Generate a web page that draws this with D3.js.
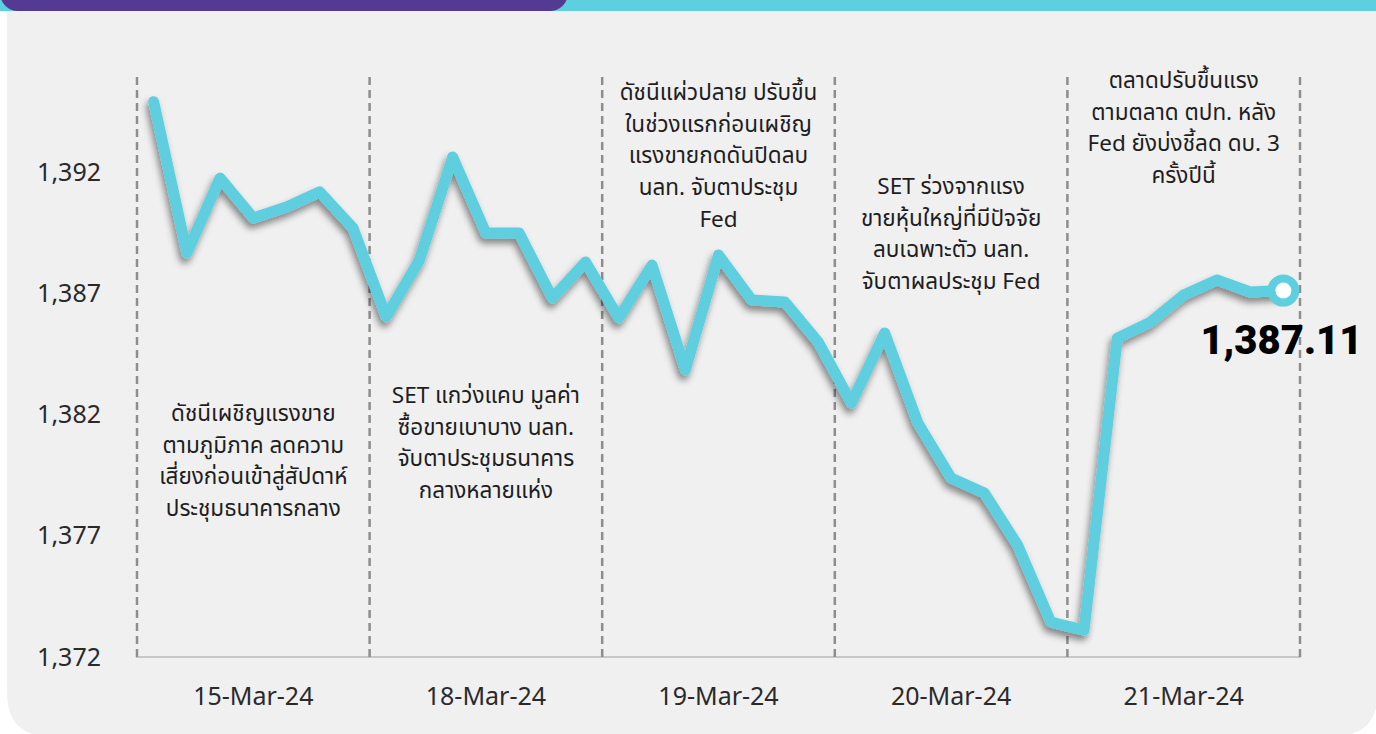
<!DOCTYPE html>
<html>
	<head>
		<title>SET Index 15-21 Mar 2024</title>
		<meta charset="utf-8">
		<meta name="viewport" content="width=device-width, initial-scale=1" />
	</head>
	<body>
		<svg id="chart" width="1376" height="734"></svg>
	</body>

	<script src="https://cdnjs.cloudflare.com/ajax/libs/d3/7.8.5/d3.min.js"></script>
	<script>
		// data
		const days = ["15-Mar-24", "18-Mar-24", "19-Mar-24", "20-Mar-24", "21-Mar-24"];
		const pointsPerDay = 7;
		const setIndex = [
			1394.90, 1388.66, 1391.75, 1390.10, 1390.56, 1391.18, 1389.69,
			1386.03, 1388.37, 1392.62, 1389.48, 1389.48, 1386.80, 1388.29,
			1385.98, 1388.16, 1383.84, 1388.58, 1386.72, 1386.64, 1384.99,
			1382.47, 1385.36, 1381.65, 1379.38, 1378.76, 1376.62, 1373.44,
			1373.11, 1385.15, 1385.81, 1386.93, 1387.55, 1387.05, 1387.11
		];
		const yTicks = [1372, 1377, 1382, 1387, 1392];
		const lastLabel = "1,387.11";
		const notes = [
			["ดัชนีเผชิญแรงขาย", "ตามภูมิภาค ลดความ", "เสี่ยงก่อนเข้าสู่สัปดาห์", "ประชุมธนาคารกลาง"],
			["SET แกว่งแคบ มูลค่า", "ซื้อขายเบาบาง นลท.", "จับตาประชุมธนาคาร", "กลางหลายแห่ง"],
			["ดัชนีแผ่วปลาย ปรับขึ้น", "ในช่วงแรกก่อนเผชิญ", "แรงขายกดดันปิดลบ", "นลท. จับตาประชุม", "Fed"],
			["SET ร่วงจากแรง", "ขายหุ้นใหญ่ที่มีปัจจัย", "ลบเฉพาะตัว นลท.", "จับตาผลประชุม Fed"],
			["ตลาดปรับขึ้นแรง", "ตามตลาด ตปท. หลัง", "Fed ยังบ่งชี้ลด ดบ. 3", "ครั้งปีนี้"]
		];

		// layout
		const W = 1376, H = 734;
		const plot = {left: 137, right: 1300, bottom: 657, top: 77};
		const noteTop = [413, 395, 92, 186, 80];
		const lineGap = 31.7;

		const svg = d3.select("#chart");
		const defs = svg.append("defs");

		const shadow = defs.append("filter")
			.attr("id", "shadow")
			.attr("x", "-10%").attr("y", "-10%")
			.attr("width", "120%").attr("height", "130%");
		shadow.append("feDropShadow")
			.attr("dx", -2).attr("dy", 5)
			.attr("stdDeviation", 3.5)
			.attr("flood-color", "#000")
			.attr("flood-opacity", 0.45);

		// background panel and header strips
		svg.append("rect").attr("width", W).attr("height", H).attr("fill", "#ffffff");
		svg.append("path")
			.attr("d", `M7,0 H${W + 2} V${H - 42} Q${W + 2},${H + 2} ${W - 42},${H + 2} H49 Q7,${H + 2} 7,${H - 42} Z`)
			.attr("fill", "#f0f0f0");
		svg.append("rect").attr("x", 0).attr("y", -20).attr("width", W).attr("height", 31).attr("fill", "#5ecfdf");
		svg.append("rect").attr("x", 0).attr("y", -30).attr("width", 568).attr("height", 41)
			.attr("rx", 18).attr("fill", "#553a94");

		// scales
		const xDay = d3.scaleBand().domain(days).range([plot.left, plot.right]).padding(0);
		const x = d3.scaleLinear()
			.domain([0, days.length * pointsPerDay])
			.range([plot.left, plot.right]);
		const y = d3.scaleLinear().domain([1372, 1392]).range([plot.bottom, 172]);

		// y axis labels
		const yAxis = svg.append("g")
			.attr("transform", "translate(101,0)")
			.call(d3.axisLeft(y).tickValues(yTicks).tickSize(0).tickPadding(0)
				.tickFormat(d3.format(",")));
		yAxis.select(".domain").remove();
		yAxis.selectAll("text")
			.attr("font-family", "'Noto Sans', sans-serif")
			.attr("font-size", 25)
			.attr("fill", "#2a2a2a");

		// x axis line and day labels
		const xAxis = svg.append("g")
			.attr("transform", `translate(0,${plot.bottom})`)
			.call(d3.axisBottom(xDay).tickSize(0).tickPadding(30));
		xAxis.select(".domain")
			.attr("stroke", "#c8c8c8")
			.attr("stroke-width", 2)
			.attr("d", `M${plot.left},-6 V0 H${plot.right} V-6`);
		xAxis.selectAll("text")
			.attr("font-family", "'Noto Sans', sans-serif")
			.attr("font-size", 25)
			.attr("fill", "#2a2a2a");

		// dashed dividers between days
		const bounds = days.map(d => xDay(d)).concat([plot.right]);
		svg.append("g").selectAll("line")
			.data(bounds)
			.enter().append("line")
				.attr("x1", d => d).attr("x2", d => d)
				.attr("y1", plot.top).attr("y2", plot.bottom)
				.attr("stroke", "#8e8e8e")
				.attr("stroke-width", 2.5)
				.attr("stroke-dasharray", "8,5");

		// notes for each day
		const noteG = svg.append("g")
			.attr("font-family", "'Noto Sans Thai', 'Noto Sans', sans-serif")
			.attr("font-size", 22.5)
			.attr("fill", "#1e1e1e")
			.attr("text-anchor", "middle");
		notes.forEach((lines, i) => {
			noteG.append("text")
				.selectAll("tspan")
				.data(lines)
				.enter().append("tspan")
					.attr("x", xDay(days[i]) + xDay.bandwidth() / 2)
					.attr("y", (d, j) => noteTop[i] + j * lineGap)
					.attr("dy", "0.35em")
					.text(d => d);
		});

		// index line
		const line = d3.line()
			.x((d, i) => x(i + 0.5))
			.y(d => y(d));

		svg.append("path")
			.datum(setIndex)
			.attr("d", line)
			.attr("fill", "none")
			.attr("stroke", "#5ecfdf")
			.attr("stroke-width", 11)
			.attr("stroke-linejoin", "round")
			.attr("stroke-linecap", "round")
			.attr("filter", "url(#shadow)");

		const n = setIndex.length - 1;
		svg.append("circle")
			.attr("cx", x(n + 0.5))
			.attr("cy", y(setIndex[n]))
			.attr("r", 12)
			.attr("fill", "#ffffff")
			.attr("stroke", "#5ecfdf")
			.attr("stroke-width", 8);

		svg.append("text")
			.attr("x", x(n + 0.5) - 2)
			.attr("y", y(setIndex[n]) + 63)
			.attr("text-anchor", "middle")
			.attr("font-family", "Roboto, sans-serif")
			.attr("font-weight", 900)
			.attr("font-size", 40)
			.attr("fill", "#000")
			.text(lastLabel);
	</script>

	<style>
		html, body
		{
			margin: 0;
			overflow: hidden;
			background: #ffffff;
		}

		#chart
		{
			display: block;
		}
	</style>
</html>
